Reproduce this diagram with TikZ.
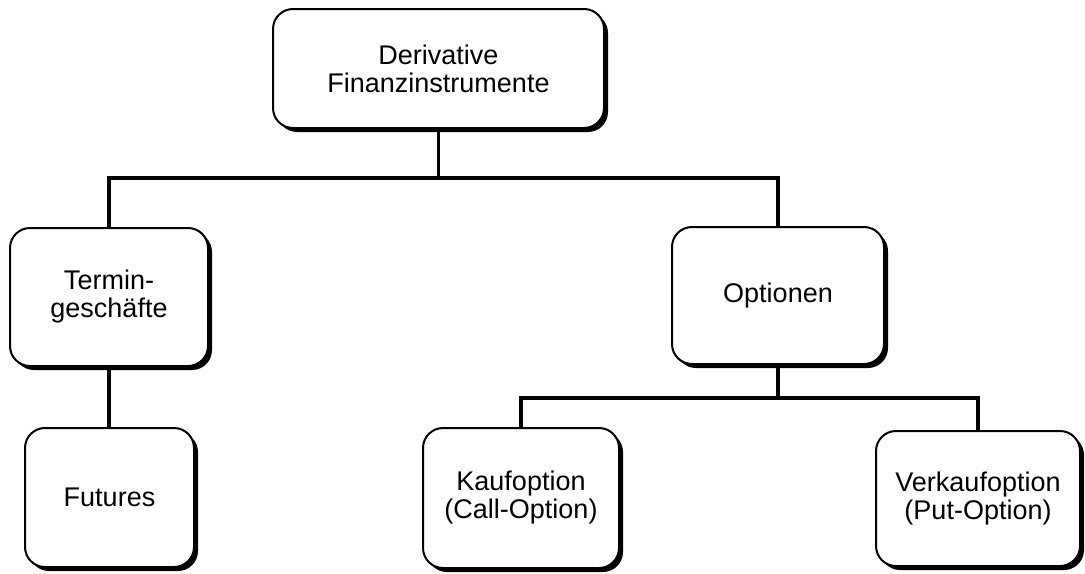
\documentclass[tikz,border=0pt]{standalone}
\usepackage{fontspec}
\setmainfont{Liberation Sans}
\usetikzlibrary{shadows}

\tikzset{
  box/.style={draw, line width=1pt, rounded corners=10pt, fill=white, align=center,
    inner sep=0pt, font=\fontsize{13.5}{14}\selectfont,
    drop shadow={shadow xshift=2pt, shadow yshift=-2pt, fill=black, opacity=1}},
  link/.style={line width=1.6pt}
}

\begin{document}
\begin{tikzpicture}[x=0.5pt, y=-0.5pt]
	\useasboundingbox (0,0) rectangle (1085,573);

	\node[box, minimum width=165.5pt, minimum height=59.5pt] (D) at (438.5,68.5) {Derivative\\Finanzinstrumente};
	\node[box, minimum width=99pt, minimum height=69pt] (T) at (109,297) {Termin-\\geschäfte};
	\node[box, minimum width=106pt, minimum height=68.5pt] (O) at (778,295.5) {Optionen};
	\node[box, minimum width=84.5pt, minimum height=69.5pt] (F) at (109.5,497.5) {Futures};
	\node[box, minimum width=98pt, minimum height=70pt] (K) at (521,498) {Kaufoption\\(Call-Option)};
	\node[box, minimum width=102pt, minimum height=67.5pt] (V) at (978,498.5) {Verkaufoption\\(Put-Option)};

	\coordinate (top) at (0,178);
	\coordinate (low) at (0,398);

	\draw[link] (D.south) -- (D.south |- top);
	\draw[link] (T.north) -- (T.north |- top) -- (O.north |- top) -- (O.north);
	\draw[link] (T.south) -- (T.south |- F.north);
	\draw[link] (O.south) -- (O.south |- low);
	\draw[link] (K.north) -- (K.north |- low) -- (V.north |- low) -- (V.north);
\end{tikzpicture}
\end{document}
